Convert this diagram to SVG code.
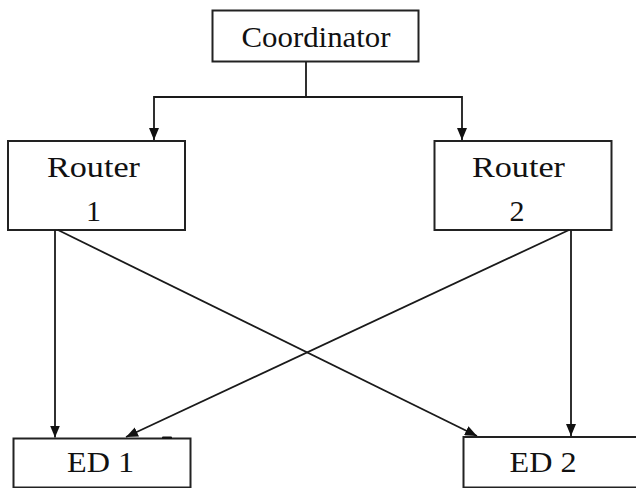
<svg xmlns="http://www.w3.org/2000/svg" width="636" height="488" viewBox="0 0 636 488">
  <defs>
    <style>
      .box { fill: #ffffff; stroke: #222222; stroke-width: 2; }
      .lbl { font-family: "Liberation Serif", "Times New Roman", serif; font-size: 30px; fill: #111111; text-anchor: middle; }
      .conn { fill: none; stroke: #1a1a1a; stroke-width: 1.8; }
    </style>
    <marker id="arrow" markerUnits="userSpaceOnUse" markerWidth="12" markerHeight="10" refX="12" refY="5" orient="auto">
      <path d="M0,0 L12,5 L0,10 z" fill="#111111"/>
    </marker>
  </defs>
  <rect x="0" y="0" width="636" height="488" fill="#ffffff"/>

  <g id="coordinator">
    <rect class="box" x="212.5" y="10.5" width="206" height="51"/>
    <text class="lbl" x="316" y="46.5" textLength="149" lengthAdjust="spacingAndGlyphs">Coordinator</text>
  </g>

  <g id="router1">
    <rect class="box" x="8" y="141" width="177" height="89"/>
    <text class="lbl" x="93.5" y="176.5" textLength="93" lengthAdjust="spacingAndGlyphs">Router</text>
    <text class="lbl" x="93.5" y="220.5">1</text>
  </g>

  <g id="router2">
    <rect class="box" x="434.5" y="141" width="177" height="89"/>
    <text class="lbl" x="518.5" y="176.5" textLength="93" lengthAdjust="spacingAndGlyphs">Router</text>
    <text class="lbl" x="517" y="220.5">2</text>
  </g>

  <g id="ed1">
    <rect class="box" x="13.5" y="438.5" width="177" height="49"/>
    <rect x="162" y="436.5" width="10" height="2.5" rx="1" fill="#111111"/>
    <text class="lbl" x="100.5" y="471.5" textLength="67" lengthAdjust="spacingAndGlyphs">ED 1</text>
  </g>

  <g id="ed2">
    <rect class="box" x="463.5" y="437" width="200" height="50.5"/>
    <text class="lbl" x="543" y="471.5" textLength="67" lengthAdjust="spacingAndGlyphs">ED 2</text>
  </g>

  <g id="connectors">
    <path class="conn" d="M306,62 V97 H154 V140" marker-end="url(#arrow)"/>
    <path class="conn" d="M306,97 H462 V140" marker-end="url(#arrow)"/>
    <path class="conn" d="M55,230 V437.5" marker-end="url(#arrow)"/>
    <path class="conn" d="M58,230 L477,436" marker-end="url(#arrow)"/>
    <path class="conn" d="M571,230 V436" marker-end="url(#arrow)"/>
    <path class="conn" d="M569,230 L126,437" marker-end="url(#arrow)"/>
  </g>
</svg>
